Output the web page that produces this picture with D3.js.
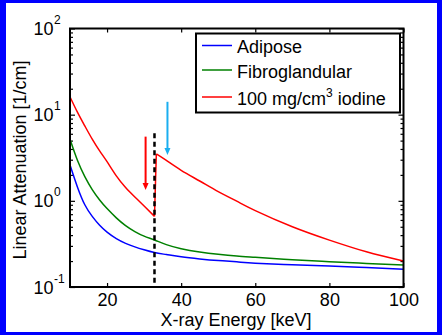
<!DOCTYPE html>
<html lang="en">
<head>
  <meta charset="UTF-8">
  <title>Linear attenuation</title>
  <script src="https://d3js.org/d3.v7.min.js"></script>
  <style>
    html, body {
      margin: 0;
      padding: 0;
      overflow: hidden;
      background: #fff;
    }
    svg text {
      font-family: "Liberation Sans", Arial, sans-serif;
      fill: #000;
    }
  </style>
</head>
<body>
  <svg id="chart" width="442" height="335"></svg>
  <script>
    // tissue curves, keV vs 1/cm
    const energy = [10, 12, 14, 16, 18, 20, 22.5, 25, 27.5, 30, 32.8, 36, 40, 45, 50, 55, 60, 70, 80, 90, 100];
    const adipose = [2.61, 1.45, 0.90, 0.66, 0.52, 0.433, 0.364, 0.321, 0.292, 0.27, 0.251, 0.238, 0.224, 0.212, 0.203, 0.196, 0.189, 0.181, 0.175, 0.168, 0.161];
    const fibroglandular = [5.18, 2.95, 1.91, 1.35, 1.023, 0.813, 0.635, 0.516, 0.44, 0.389, 0.351, 0.31, 0.278, 0.255, 0.240, 0.229, 0.221, 0.207, 0.197, 0.188, 0.180];

    // iodine has the K-edge jump, so its own energy grid
    const iodineEnergy = [10, 12, 14, 16, 18, 20, 22.5, 25, 27.5, 30, 32.8, 33.3, 36, 40, 45, 50, 55, 60, 70, 80, 90, 100];
    const iodine = [16.1, 10.7, 7.4, 5.2, 3.8, 2.85, 1.95, 1.43, 1.11, 0.87, 0.66, 3.5, 2.94, 2.26, 1.70, 1.28, 0.99, 0.77, 0.50, 0.35, 0.256, 0.2];

    const kEdge = 32.8;
    const kEdgeTop = 6.1;

    // annotation arrows: [energy, from, to]
    const redArrow = [30.4, 5.56, 1.34];
    const blueArrow = [36.3, 14.1, 3.41];

    const xTicks = [20, 40, 60, 80, 100];
    const yDecades = [0.1, 1, 10, 100];
    const yExponents = ['-1', '0', '1', '2'];
    const legendNames = ['Adipose', 'Fibroglandular', '100 mg/cm'];
    const colors = ['#0000ff', '#008000', '#ff0000'];

    const svg = d3.select('#chart');
    const W = 442, H = 335;

    // blue frame
    svg.append('rect').attr('width', W).attr('height', H).attr('fill', '#0000ff');
    svg.append('rect').attr('x', 6).attr('y', 3).attr('width', 431).attr('height', 329).attr('fill', '#fff');

    const x = d3.scaleLinear().domain([10, 100]).range([70, 403.5]);
    const y = d3.scaleLog().domain([0.1, 100]).range([287, 28.5]);

    const minor = [];
    yDecades.slice(0, 3).forEach(d => {
      for (let k = 2; k <= 9; k++) minor.push(d * k);
    });

    const axes = svg.append('g').attr('class', 'axes');

    const xb = axes.append('g')
      .attr('transform', `translate(0,${y.range()[0]})`)
      .call(d3.axisBottom(x).tickValues(xTicks).tickSize(-4).tickPadding(6));
    xb.selectAll('text').style('font-size', '18px');

    axes.append('g')
      .attr('transform', `translate(0,${y.range()[1]})`)
      .call(d3.axisTop(x).tickValues(xTicks).tickSize(-4).tickFormat(''));

    axes.append('g')
      .attr('transform', `translate(${x.range()[0]},0)`)
      .call(d3.axisLeft(y).tickValues(yDecades).tickSize(-5).tickFormat(''));
    axes.append('g')
      .attr('transform', `translate(${x.range()[0]},0)`)
      .call(d3.axisLeft(y).tickValues(minor).tickSize(-3).tickFormat(''));
    axes.append('g')
      .attr('transform', `translate(${x.range()[1]},0)`)
      .call(d3.axisRight(y).tickValues(yDecades).tickSize(-5).tickFormat(''));
    axes.append('g')
      .attr('transform', `translate(${x.range()[1]},0)`)
      .call(d3.axisRight(y).tickValues(minor).tickSize(-3).tickFormat(''));

    axes.selectAll('.domain').remove();
    axes.selectAll('.tick line').attr('stroke', '#000').attr('stroke-width', 1.2);

    // y labels as 10^n
    const yl = svg.append('g');
    yDecades.forEach((d, i) => {
      yl.append('text')
        .attr('x', 53.5).attr('y', y(d) + 6.5)
        .attr('text-anchor', 'end')
        .style('font-size', '18px')
        .text('10');
      yl.append('text')
        .attr('x', 54).attr('y', y(d) - 4.5)
        .style('font-size', '12px')
        .text(yExponents[i]);
    });

    // curves
    const line = d3.line()
      .x(d => x(d[0]))
      .y(d => y(d[1]))
      .curve(d3.curveNatural);

    const plot = svg.append('g');
    const series = [
      d3.zip(energy, adipose),
      d3.zip(energy, fibroglandular)
    ];
    series.forEach((s, i) => {
      plot.append('path')
        .attr('d', line(s))
        .attr('fill', 'none')
        .attr('stroke', colors[i])
        .attr('stroke-width', 1.5);
    });

    const iod = d3.zip(iodineEnergy, iodine);
    const edgeIdx = iodineEnergy.indexOf(kEdge);
    const iodPath = line(iod.slice(0, edgeIdx + 1)) +
      line(iod.slice(edgeIdx, edgeIdx + 2)) +
      line(iod.slice(edgeIdx + 1));
    plot.append('path')
      .attr('d', iodPath)
      .attr('fill', 'none')
      .attr('stroke', colors[2])
      .attr('stroke-width', 1.5);

    // K-edge marker
    plot.append('line')
      .attr('x1', x(kEdge)).attr('x2', x(kEdge))
      .attr('y1', y(kEdgeTop)).attr('y2', y.range()[0])
      .attr('stroke', '#000')
      .attr('stroke-width', 2.5)
      .attr('stroke-dasharray', '5,3.5');

    function arrow(a, color) {
      const ax = x(a[0]), y0 = y(a[1]), y1 = y(a[2]);
      plot.append('line')
        .attr('x1', ax).attr('x2', ax)
        .attr('y1', y0).attr('y2', y1 - 5)
        .attr('stroke', color).attr('stroke-width', 2);
      plot.append('path')
        .attr('d', `M${ax - 3},${y1 - 7}L${ax + 3},${y1 - 7}L${ax},${y1}Z`)
        .attr('fill', color);
    }
    arrow(redArrow, '#ff0000');
    arrow(blueArrow, '#1aaef0');

    // box
    svg.append('rect')
      .attr('x', x.range()[0]).attr('y', y.range()[1])
      .attr('width', x.range()[1] - x.range()[0])
      .attr('height', y.range()[0] - y.range()[1])
      .attr('fill', 'none')
      .attr('stroke', '#000')
      .attr('stroke-width', 2);

    // axis titles
    svg.append('text')
      .attr('x', 236).attr('y', 326)
      .attr('text-anchor', 'middle')
      .style('font-size', '18px')
      .text('X-ray Energy [keV]');
    svg.append('text')
      .attr('transform', 'translate(26,160) rotate(-90)')
      .attr('text-anchor', 'middle')
      .style('font-size', '18px')
      .text('Linear Attenuation [1/cm]');

    // legend
    const lg = svg.append('g');
    lg.append('rect')
      .attr('x', 196).attr('y', 33.5)
      .attr('width', 204).attr('height', 79)
      .attr('fill', '#fff')
      .attr('stroke', '#000')
      .attr('stroke-width', 2);
    const rowLine = [45.5, 70, 97];
    const rowText = [52.5, 77.5, 105];
    legendNames.forEach((name, i) => {
      lg.append('line')
        .attr('x1', 202).attr('x2', 232)
        .attr('y1', rowLine[i]).attr('y2', rowLine[i])
        .attr('stroke', colors[i]).attr('stroke-width', 1.5);
      const t = lg.append('text')
        .attr('x', 237).attr('y', rowText[i])
        .style('font-size', '18px')
        .text(name);
      if (i === 2) {
        t.append('tspan').attr('dy', -8).style('font-size', '12px').text('3');
        t.append('tspan').attr('dy', 8).text(' iodine');
      }
    });
  </script>
</body>
</html>
